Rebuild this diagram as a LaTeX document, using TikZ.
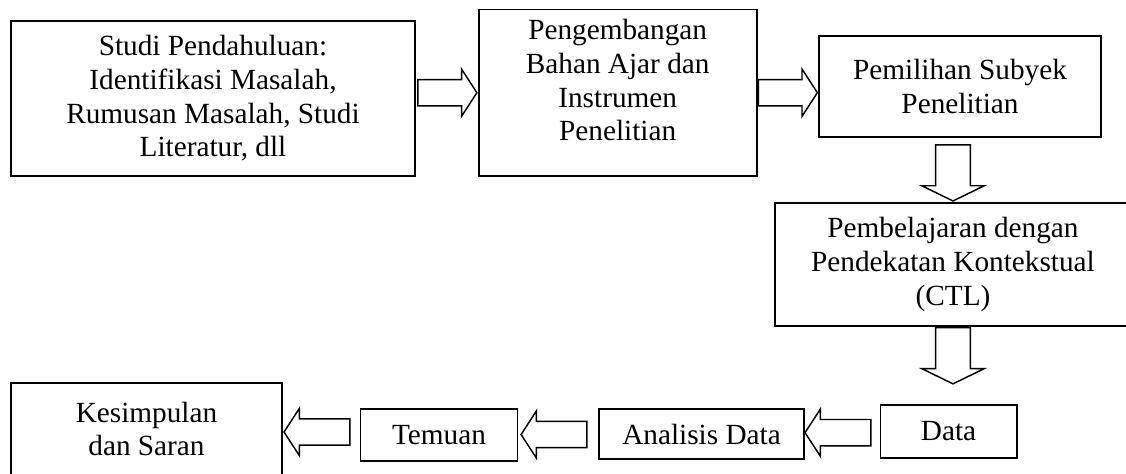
\documentclass[tikz,border=0pt]{standalone}
\usepackage{fontspec}
\setmainfont{Liberation Serif}
\usetikzlibrary{shapes.arrows,calc}

\begin{document}
\begin{tikzpicture}[x=0.41pt,y=-0.41pt,font=\fontsize{12}{13.8}\selectfont,
  kotak/.style={draw,line width=0.75pt,align=center,inner sep=2pt},
  panahh/.style={draw,single arrow,line width=0.6pt,inner sep=0pt,inner ysep=5.1pt,
    single arrow head extend=4.3pt,single arrow tip angle=114,minimum height=24.2pt},
  panahb/.style={panahh,minimum height=27pt,rotate=180},
  panahv/.style={draw,single arrow,line width=0.6pt,inner sep=0pt,inner ysep=6.8pt,
    single arrow head extend=5.7pt,single arrow tip angle=128,minimum height=23pt,rotate=-90}]
\clip (0,0) rectangle (1126,473);
\node[kotak,minimum width=165.6pt,minimum height=63.6pt] (studi) at (213,98.5) {Studi Pendahuluan:\\Identifikasi Masalah,\\Rumusan Masalah, Studi\\Literatur, dll};
\node[kotak,minimum width=114pt,minimum height=68.3pt,text depth=10.4pt] (bahan) at (617.7,92.7) {Pengembangan\\Bahan Ajar dan\\Instrumen\\Penelitian};
\node[kotak,minimum width=115.5pt,minimum height=41.7pt] (subyek) at (960,86.5) {Pemilihan Subyek\\Penelitian};
\node[kotak,minimum width=146pt,minimum height=50.6pt] (ctl) at (953,264.4) {Pembelajaran dengan\\Pendekatan Kontekstual\\(CTL)};
\node[kotak,minimum width=55.8pt,minimum height=21.9pt] (data) at (948.6,431.3) {Data};
\node[kotak,minimum width=84pt,minimum height=20.5pt] (analisis) at (701.5,434) {Analisis Data};
\node[kotak,minimum width=64.4pt,minimum height=21.2pt] (temuan) at (439,435) {Temuan};
\node[kotak,minimum width=111.1pt,minimum height=37.7pt] (simpulan) at (146.5,429) {Kesimpulan\\dan Saran};
\node[panahh,anchor=tip] (p1) at (bahan.west) {};
\node[panahh,anchor=tip] (p2) at (subyek.west |- bahan.west) {};
\node[panahv,anchor=tip] (p3) at (ctl.north) {};
\node[panahv,anchor=tail] (p4) at (ctl.south) {};
\node[panahb] (p5) at ($(data.west)!.5!(analisis.east)$) {};
\node[panahb] (p6) at ($(analisis.west)!.5!(temuan.east)$) {};
\node[panahb] (p7) at ($(temuan.west)!.5!(simpulan.east)$) {};
\end{tikzpicture}
\end{document}
